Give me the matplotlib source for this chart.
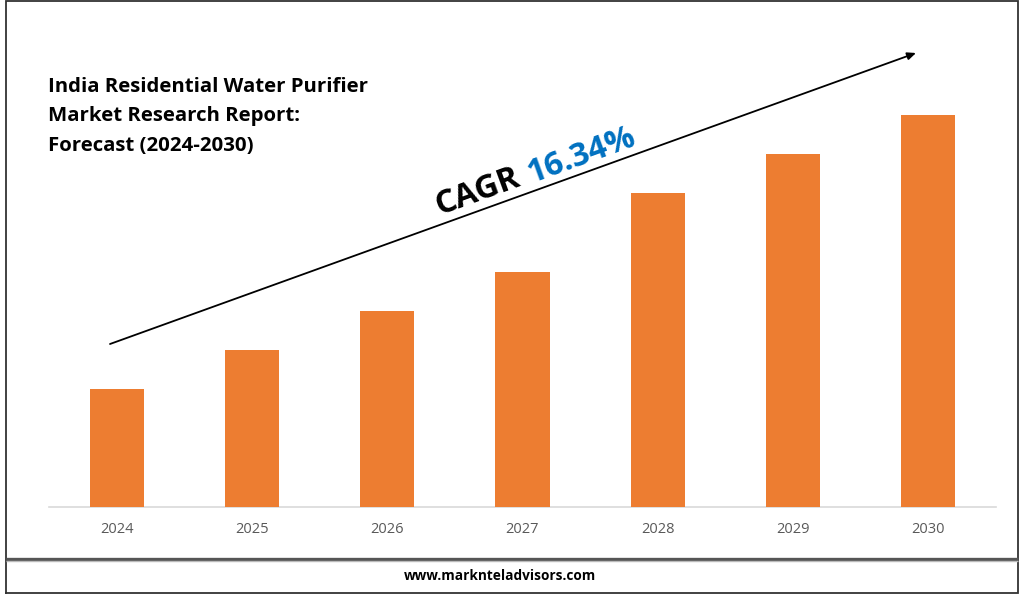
import matplotlib
matplotlib.use('Agg')
from matplotlib import pyplot as plt

years = ['2024', '2025', '2026', '2027', '2028', '2029', '2030']
values = [3, 4, 5, 6, 8, 9, 10]

title_lines = ['India Residential Water Purifier', 'Market Research Report:', 'Forecast (2024-2030)']
title_y = [87, 116, 146]

plt.rcParams['font.family'] = ['Open Sans', 'DejaVu Sans']

W, H = 1024, 596
fig = plt.figure(figsize=(W / 100, H / 100), dpi=100, facecolor='white')

# Bars, axes placed in pixels of the figure
ax = fig.add_axes([49 / W, (H - 507) / H, 947 / W, 407 / H])
ax.bar(years, values, width=0.4, color='#ED7D31', zorder=3)
ax.set_xlim(-0.5, 6.5)
ax.set_ylim(0, 10.38)
ax.set_yticks([])
for s in ['top', 'left', 'right']:
    ax.spines[s].set_visible(False)
ax.spines['bottom'].set_color('#D9D9D9')
ax.spines['bottom'].set_linewidth(1.2)
ax.tick_params(axis='x', length=0, pad=11, labelsize=10.5, labelcolor='#595959')
ax.patch.set_alpha(0)

# Overlay in pixel coordinates for frame, arrow and texts
ov = fig.add_axes([0, 0, 1, 1], zorder=5)
ov.set_xlim(0, W)
ov.set_ylim(H, 0)
ov.axis('off')

# Frame
ov.plot([6, 6, 1018, 1018, 6], [593, 1, 1, 593, 593], color='#333333', lw=1.3, solid_joinstyle='miter')
ov.plot([6, 1018], [558.5, 558.5], color='#555555', lw=2.4, solid_capstyle='butt')
ov.plot([6, 1018], [560.5, 560.5], color='#BBBBBB', lw=1.0, solid_capstyle='butt')

# CAGR arrow
ov.annotate('', xy=(916, 53), xytext=(110, 344),
            arrowprops=dict(arrowstyle='-|>,head_width=0.22,head_length=0.5', color='black', lw=1.3,
                            shrinkA=0, shrinkB=0))
ov.text(477, 192, 'CAGR', fontsize=23.5, fontweight='bold', color='black', rotation=20,
        ha='center', va='center', rotation_mode='anchor')
ov.text(581, 156, '16.34%', fontsize=23.5, fontweight='bold', color='#0070C0', rotation=20,
        ha='center', va='center', rotation_mode='anchor')

# Title
for line, y in zip(title_lines, title_y):
    ov.text(48, y, line, fontsize=14.7, fontweight='bold', color='black', ha='left', va='center')

# Footer
ov.text(499.5, 575.5, 'www.marknteladvisors.com', fontsize=9.8, fontweight='bold', color='black',
        ha='center', va='center')

fig.savefig('out.png', dpi=100)
